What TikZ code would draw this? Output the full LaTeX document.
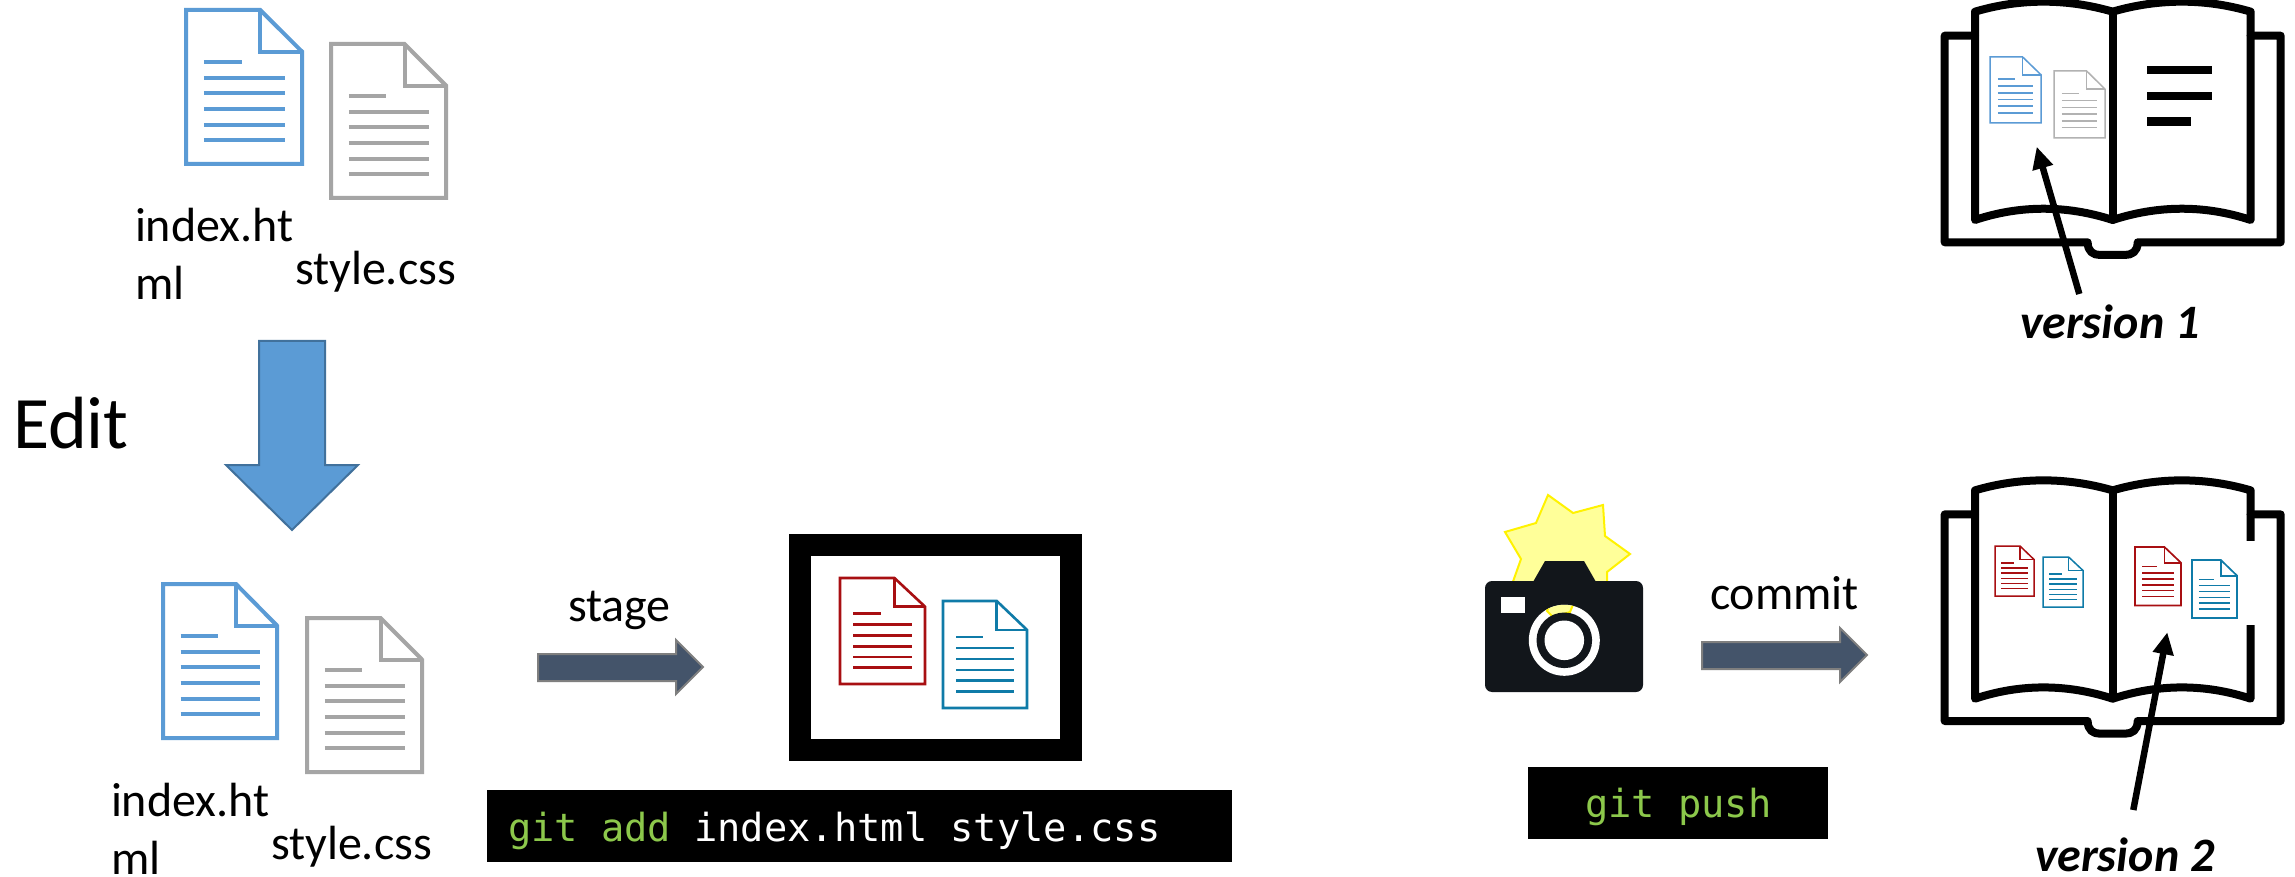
\documentclass[tikz,border=0pt]{standalone}
\usepackage{fontspec}
\setmainfont{Carlito}
\setmonofont{DejaVu Sans Mono}
\usetikzlibrary{arrows.meta}
\definecolor{docblue}{HTML}{5B9BD5}
\definecolor{docgrey}{HTML}{A5A5A5}
\definecolor{docred}{HTML}{A80F12}
\definecolor{doccyan}{HTML}{0F7BA8}
\definecolor{slate}{HTML}{44546A}
\definecolor{slateedge}{HTML}{7F7F7F}
\definecolor{edgeblue}{HTML}{41719C}
\definecolor{gitgreen}{HTML}{8CC84B}
\definecolor{camblack}{HTML}{12161B}
\definecolor{flashfill}{HTML}{FFFF99}
\tikzset{
  lbl/.style={inner sep=0pt,outer sep=0pt,anchor=base west,text=black,font=\fontsize{48}{58}\selectfont},
  edittext/.style={lbl,font=\fontsize{74}{80}\selectfont},
  versiontext/.style={lbl,font=\fontsize{48}{58}\selectfont\bfseries\itshape},
  term/.style={fill=black,draw=none},
  termtext/.style={inner sep=0pt,outer sep=0pt,anchor=base west,font=\fontsize{38.7}{46}\ttfamily},
  blockarrow/.style={fill=slate,draw=slateedge,line width=2pt,line join=miter},
  bookline/.style={draw=black,line width=8pt,line join=round,line cap=round},
  pointer/.style={draw=black,line width=6.5pt,-{Triangle[length=22pt,width=20pt]}},
}
% doc icon: left, top, right, bottom, colour, outline width, text line width
\newcommand{\docicon}[7]{%
  \pgfmathsetmacro{\dw}{#3-#1}\pgfmathsetmacro{\dh}{#4-#2}%
  \begin{scope}[shift={(#1,#2)},x=\dw pt,y=-\dh pt,draw=#5,line join=miter]
    \draw[fill=white,line width=#6pt] (0,0) -- (0.64,0) -- (1,0.27) -- (1,1) -- (0,1) -- cycle;
    \draw[line width=#6pt] (0.64,0) -- (0.64,0.27) -- (1,0.27);
    \draw[line width=#7pt] (0.155,0.335) -- (0.48,0.335);
    \foreach \ly in {0.439,0.542,0.645,0.745,0.845}{
      \draw[line width=#7pt] (0.155,\ly) -- (0.85,\ly);
    }
  \end{scope}}
% open book: origin
\newcommand{\bookicon}[2]{%
  \begin{scope}[shift={(#1,#2)},x=0.3333pt,y=-0.3333pt]
    \draw[bookline] (165,107) -- (74,107) -- (74,727) -- (503,727)
       .. controls (503,755) and (520,765) .. (540,765) -- (615,765)
       .. controls (636,765) and (653,755) .. (653,727) -- (1082,727) -- (1082,107) -- (992,107);
    \draw[bookline] (165,35) .. controls (300,-5) and (440,-5) .. (578,35)
       .. controls (716,-5) and (856,-5) .. (992,35) -- (992,660)
       .. controls (856,615) and (716,615) .. (578,660)
       .. controls (440,615) and (300,615) .. (165,660) -- cycle;
    \draw[bookline] (578,35) -- (578,660);
  \end{scope}}
\begin{document}
\begin{tikzpicture}[x=1pt,y=-1pt]
\clip (0,0) rectangle (2295,877);
\fill[white] (0,0) rectangle (2295,877);

% top documents
\docicon{186}{10}{302}{164}{docblue}{4}{4}
\docicon{331}{44}{446}{198}{docgrey}{4}{4}
\node[lbl,align=left] (idxa) at (135,300) {index.ht\\ml};
\node[lbl] (stya) at (295,285) {style.css};

% edit arrow
\node[edittext] (edit) at (13,448) {Edit};
\draw[fill=docblue,draw=edgeblue,line width=2pt,line join=miter]
  (259,341) -- (325,341) -- (325,465) -- (358,465) -- (292,530) -- (226,465) -- (259,465) -- cycle;

% lower documents
\docicon{163}{584}{277}{738}{docblue}{4}{4}
\docicon{307}{618}{422}{772}{docgrey}{4}{4}
\node[lbl,align=left] (idxb) at (111,874) {index.ht\\ml};
\node[lbl] (styb) at (271,859) {style.css};

% stage
\node[lbl] (stage) at (568,621) {stage};
\draw[blockarrow] (538,654) -- (676,654) -- (676,640) -- (703,667) -- (676,694) -- (676,681) -- (538,681) -- cycle;
\fill[black] (789,534) rectangle (1082,761);
\fill[white] (811,556) rectangle (1060,739);
\docicon{840}{578}{925}{684}{docred}{2.6}{2.6}
\docicon{943}{601}{1027}{708}{doccyan}{2.6}{2.6}
\fill[term] (487,790) rectangle (1232,862);
\node[termtext] (addcmd) at (508,841) {\textcolor{gitgreen}{git add} \textcolor{white}{index.html style.css}};

% camera
\draw[fill=flashfill,draw=yellow,line width=2pt]
  (1548,495) -- (1573,513) -- (1603,505) -- (1605,536) -- (1630,554) -- (1607,572) -- (1607,590)
  -- (1510,590) -- (1521,559) -- (1505,532) -- (1536,523) -- cycle;
\fill[camblack,rounded corners=7pt] (1485,581) rectangle (1643,692);
\fill[camblack] (1533,582) -- (1545,561) -- (1584,561) -- (1596,582) -- cycle;
\fill[white] (1501,597) rectangle (1525,613);
\fill[white] (1564.3,640.3) circle[radius=35.5pt];
\begin{scope}
  \clip (1564.3,640.3) circle[radius=35.5pt];
  \draw[fill=flashfill,draw=yellow,line width=2pt]
    (1547,611) -- (1552,600) -- (1575,600) -- (1570,612) -- (1553,617) -- cycle;
\end{scope}
\fill[camblack] (1564.3,640.3) circle[radius=27.8pt];
\fill[white] (1564.3,640.3) circle[radius=19.8pt];

% commit
\node[lbl] (commit) at (1710,609) {commit};
\draw[blockarrow] (1702,642) -- (1840,642) -- (1840,628) -- (1867,655) -- (1840,682) -- (1840,669) -- (1702,669) -- cycle;
\fill[term] (1528,767) rectangle (1828,839);
\node[termtext,text=gitgreen] (pushcmd) at (1585,817) {git push};

% book version 1
\bookicon{1920}{0}
\docicon{1990}{57}{2041}{123}{docblue}{1.5}{1.5}
\docicon{2054}{71}{2105}{138}{docgrey!85}{1.5}{1.5}
\fill[black] (2147,66) rectangle (2212,74.5);
\fill[black] (2147,92) rectangle (2212,100.5);
\fill[black] (2147,117) rectangle (2191,126);
\coordinate (v1tail) at (2079.3,294);
\coordinate (v1tip) at (2036.7,146.7);
\draw[pointer] (v1tail) -- (v1tip);
\node[versiontext] (v1) at (2020,339) {version 1};

% book version 2
\bookicon{1920}{478.7}
\fill[white] (2246,541) rectangle (2258,625);
\docicon{1995}{546}{2034}{596}{docred}{1.5}{1.5}
\docicon{2043}{557}{2083}{607}{doccyan}{1.5}{1.5}
\docicon{2135}{547}{2181}{605.5}{docred}{1.7}{1.7}
\docicon{2192}{560}{2237}{618}{doccyan}{1.7}{1.7}
\coordinate (v2tail) at (2133.3,810);
\coordinate (v2tip) at (2167.3,632.3);
\draw[pointer] (v2tail) -- (v2tip);
\node[versiontext] (v2) at (2035,871) {version 2};
\end{tikzpicture}
\end{document}
